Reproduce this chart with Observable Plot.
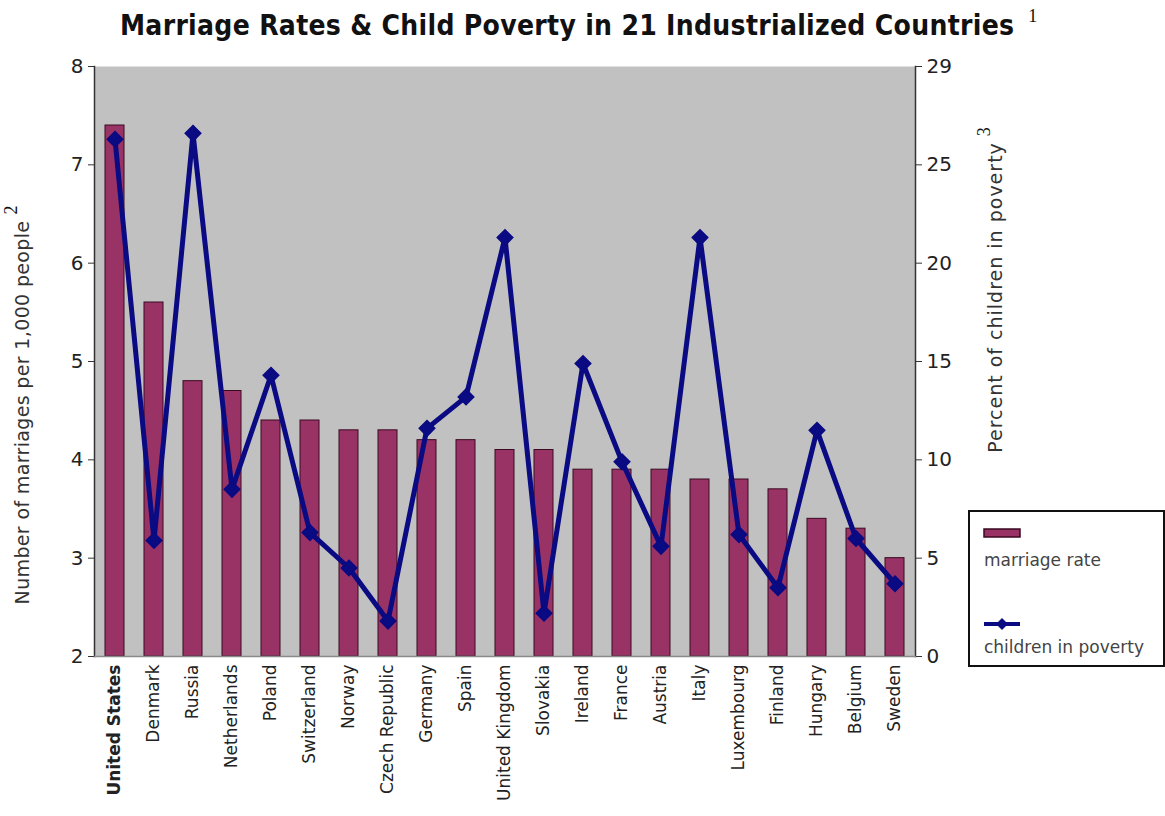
<!DOCTYPE html>
<html>
<head>
<meta charset="utf-8">
<script src="https://cdn.jsdelivr.net/npm/d3@7"></script>
<script src="https://cdn.jsdelivr.net/npm/@observablehq/plot@0.6"></script>
<style>
  body { margin: 0; background: #fff; }
  #wrap { position: relative; width: 1165px; height: 816px; overflow: hidden; font-family: "DejaVu Sans", sans-serif; }
  .abs { position: absolute; white-space: nowrap; }
  #title { left: 120px; top: 9px; font-family: "DejaVu Sans Condensed", "DejaVu Sans", sans-serif; font-stretch: condensed; font-weight: bold; font-size: 28px; letter-spacing: 0.3px; color: #111; }
  #title sup, .ylab sup { font-family: "Liberation Serif", "DejaVu Serif", serif; font-weight: normal; font-size: 18px; vertical-align: 0.7em; line-height: 0; color: #111; letter-spacing: 0; }
  .ylab { font-size: 19px; color: #333; transform: translate(-50%, -50%) rotate(-90deg); }
  #legend { left: 968px; top: 510px; width: 193px; height: 153px; border: 2px solid #111; background: #fff; }
  #legend .t { position: absolute; left: 14px; font-size: 17px; color: #444; }
</style>
</head>
<body>
<div id="wrap">
  <div id="chart"></div>
  <div id="title" class="abs">Marriage Rates &amp; Child Poverty in 21 Industrialized Countries<sup style="margin-left:14px">1</sup></div>
  <div class="abs ylab" style="left:22px; top:405px; letter-spacing:0.35px;">Number of marriages per 1,000 people<sup style="margin-left:6px">2</sup></div>
  <div class="abs ylab" style="left:995px; top:290px; letter-spacing:1px;">Percent of children in poverty<sup style="margin-left:6px">3</sup></div>
  <div id="legend" class="abs">
    <svg style="position:absolute;left:13px;top:16px" width="40" height="12"><rect x="1" y="1" width="36" height="8" fill="#993366" stroke="#3a0a20" stroke-width="1.5"/></svg>
    <div class="t" style="top:38px">marriage rate</div>
    <svg style="position:absolute;left:13px;top:104px" width="40" height="16"><line x1="1" y1="8" x2="37" y2="8" stroke="#0a0a82" stroke-width="4"/><path d="M19,2 L25,8 L19,14 L13,8 Z" fill="#0a0a82"/></svg>
    <div class="t" style="top:125px">children in poverty</div>
  </div>
</div>
<script>
const countries = ["United States","Denmark","Russia","Netherlands","Poland","Switzerland","Norway","Czech Republic","Germany","Spain","United Kingdom","Slovakia","Ireland","France","Austria","Italy","Luxembourg","Finland","Hungary","Belgium","Sweden"];
const marriageRate = [7.4,5.6,4.8,4.7,4.4,4.4,4.3,4.3,4.2,4.2,4.1,4.1,3.9,3.9,3.9,3.8,3.8,3.7,3.4,3.3,3.0];
const childPoverty = [26.3,5.9,26.6,8.5,14.3,6.3,4.5,1.8,11.6,13.2,21.3,2.2,14.9,9.9,5.6,21.3,6.2,3.5,11.5,6.0,3.7];
const leftTicks = [2,3,4,5,6,7,8];
const rightTicks = [0,5,10,15,20,25,30];
const rightTickLabels = ["0","5","10","15","20","25","29"];
const leftDomain = [2, 8];
const rightDomain = [0, 30];

const toLeft = p => leftDomain[0] + (p - rightDomain[0]) * (leftDomain[1] - leftDomain[0]) / (rightDomain[1] - rightDomain[0]);
const data = countries.map((c, i) => ({country: c, marriage: marriageRate[i], poverty: childPoverty[i]}));
const rightPos = rightTicks.map(toLeft);
const rightLabelOf = new Map(rightPos.map((p, i) => [p, rightTickLabels[i]]));
const navy = "#0a0a82";

const chart = Plot.plot({
  width: 1165,
  height: 816,
  marginLeft: 94,
  marginRight: 250,
  marginTop: 66,
  marginBottom: 160,
  style: {fontFamily: "DejaVu Sans, sans-serif", fontSize: "17px", color: "#222", background: "transparent"},
  x: {domain: countries, paddingInner: 0.52, paddingOuter: 0.26, label: null},
  y: {domain: leftDomain, label: null},
  marks: [
    Plot.frame({fill: "#c1c1c1", stroke: null}),
    Plot.barY(data, {x: "country", y1: () => leftDomain[0], y2: "marriage", fill: "#993366", stroke: "#3a0a20", strokeWidth: 1}),
    Plot.line(data, {x: "country", y: d => toLeft(d.poverty), stroke: navy, strokeWidth: 5, strokeLinejoin: "round"}),
    Plot.dot(data, {x: "country", y: d => toLeft(d.poverty), symbol: "diamond2", r: 7, fill: navy, stroke: navy, strokeWidth: 1.5}),
    Plot.frame({anchor: "left", stroke: "#333", strokeWidth: 1.5}),
    Plot.frame({anchor: "right", stroke: "#333", strokeWidth: 1.5}),
    Plot.frame({anchor: "bottom", stroke: "#8a8a8a", strokeWidth: 1.5}),
    Plot.axisY(leftTicks, {anchor: "left", tickSize: 6, tickPadding: 5, fontSize: 20, label: null, stroke: "#333", tickFormat: d => String(d)}),
    Plot.axisY(rightPos, {anchor: "right", tickSize: 6, tickPadding: 5, fontSize: 20, label: null, stroke: "#333", tickFormat: v => rightLabelOf.get(v)}),
    Plot.axisX([countries[0]], {anchor: "bottom", tickSize: 0, tickPadding: 8, tickRotate: -90, fontSize: 17, fontWeight: "bold", label: null}),
    Plot.axisX(countries.slice(1), {anchor: "bottom", tickSize: 0, tickPadding: 8, tickRotate: -90, fontSize: 17, label: null})
  ]
});
document.getElementById("chart").appendChild(chart);
</script>
</body>
</html>
